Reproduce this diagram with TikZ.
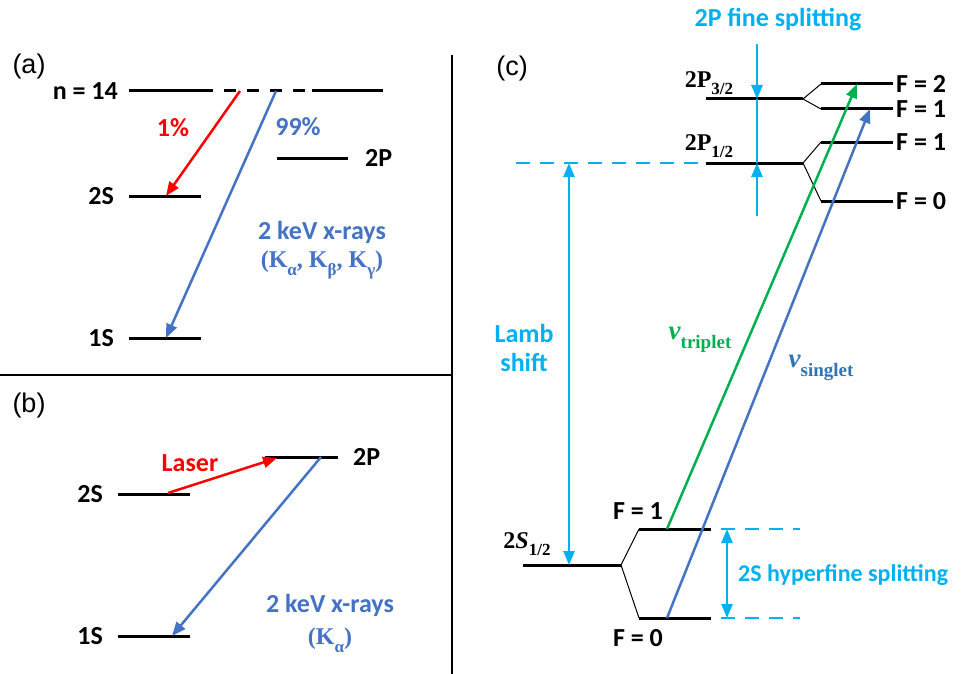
\documentclass[tikz,border=0pt]{standalone}
\usepackage{fontspec}
\setmainfont{Carlito}
\newfontfamily\arialfont{Liberation Sans}
\newfontfamily\mathser{Liberation Serif}
\usetikzlibrary{arrows.meta}
\definecolor{lblue}{RGB}{0,176,240}
\definecolor{mblue}{RGB}{68,114,196}
\definecolor{sblue}{RGB}{46,117,182}
\definecolor{grn}{RGB}{0,176,80}
\definecolor{rd}{RGB}{255,0,0}
\newcommand{\msub}[1]{\raisebox{-0.32em}{\fontsize{17}{19}\selectfont #1}}
\newcommand{\nusub}[1]{\raisebox{-0.32em}{\fontsize{19}{21}\selectfont #1}}
\tikzset{
  lvl/.style={line width=3pt},
  splitline/.style={line width=1pt},
  lab/.style={font=\bfseries\fontsize{26}{30}\selectfont, inner sep=0pt},
  mlab/.style={font=\mathser\bfseries\fontsize{24}{28}\selectfont, inner sep=0pt},
  nulab/.style={font=\mathser\bfseries\fontsize{27}{30}\selectfont, inner sep=0pt},
  panellab/.style={font=\arialfont\fontsize{27}{30}\selectfont, inner sep=0pt},
  arr/.style={line width=2.5pt, -{Triangle[length=14pt,width=11pt]}},
  larr/.style={line width=2.5pt, lblue, -{Triangle[length=14pt,width=11pt]}},
  dblarr/.style={line width=2.5pt, lblue, {Triangle[length=14pt,width=11pt]}-{Triangle[length=14pt,width=11pt]}},
  ldash/.style={line width=2.5pt, lblue, dash pattern=on 14pt off 10pt},
}
\begin{document}
\begin{tikzpicture}[x=1pt,y=-1pt]
\path[use as bounding box] (0,0) rectangle (963,674);
% dividers
\coordinate (vtop) at (452,55); \coordinate (vbot) at (452,674);
\coordinate (hl) at (0,375); \coordinate (hr) at (452,375);
\draw[line width=2pt] (vtop) -- (vbot);
\draw[line width=2pt] (hl) -- (hr);

% ---------- panel (a)
\node[panellab] (pa) at (29,67) {(a)};
\coordinate (a14L) at (129,91); \coordinate (a14A) at (213,91);
\coordinate (a14B) at (312,91); \coordinate (a14R) at (383,91);
\draw[lvl] (a14L) -- (a14A);
\draw[lvl, dash pattern=on 12pt off 11pt, dash phase=12pt] (a14A) -- (a14B);
\draw[lvl] (a14B) -- (a14R);
\node[lab, anchor=east] (n14) at (118,91) {n = 14};
\coordinate (a2SL) at (129,196); \coordinate (a2SR) at (201,196);
\draw[lvl] (a2SL) -- (a2SR);
\node[lab, anchor=east] (a2S) at (114,196) {2S};
\coordinate (a1SL) at (129,338); \coordinate (a1SR) at (201,338);
\draw[lvl] (a1SL) -- (a1SR);
\node[lab, anchor=east] (a1S) at (114,338) {1S};
\coordinate (a2PL) at (277,158); \coordinate (a2PR) at (348,158);
\draw[lvl] (a2PL) -- (a2PR);
\node[lab, anchor=west] (a2P) at (365,158) {2P};
\coordinate (ar1) at (240,91); \coordinate (ar2) at (166,196);
\draw[arr, rd] (ar1) -- (ar2);
\coordinate (ab1) at (276,91); \coordinate (ab2) at (166,338);
\draw[arr, mblue] (ab1) -- (ab2);
\node[lab, rd] (p1) at (173,128) {1\%};
\node[lab, mblue] (p99) at (298,127) {99\%};
\node[lab, mblue] (xa) at (322,232) {2 keV x-rays};
\node[mlab, mblue] (ka) at (322,265) {(K\msub{α}, K\msub{β}, K\msub{γ})};

% ---------- panel (b)
\node[panellab] (pb) at (29,406) {(b)};
\coordinate (b2SL) at (118,494); \coordinate (b2SR) at (190,494);
\draw[lvl] (b2SL) -- (b2SR);
\node[lab, anchor=east] (b2S) at (103,494) {2S};
\coordinate (b2PL) at (265,457); \coordinate (b2PR) at (338,457);
\draw[lvl] (b2PL) -- (b2PR);
\node[lab, anchor=west] (b2P) at (353,457) {2P};
\coordinate (b1SL) at (118,636); \coordinate (b1SR) at (190,636);
\draw[lvl] (b1SL) -- (b1SR);
\node[lab, anchor=east] (b1S) at (103,636) {1S};
\coordinate (br1) at (168,493); \coordinate (br2) at (277,458);
\draw[arr, rd] (br1) -- (br2);
\node[lab, rd] (laser) at (190,463) {Laser};
\coordinate (bb1) at (321,457); \coordinate (bb2) at (172,636);
\draw[arr, mblue] (bb1) -- (bb2);
\node[lab, mblue] (xb) at (330,605) {2 keV x-rays};
\node[mlab, mblue] (kb) at (330,640) {(K\msub{α})};

% ---------- panel (c)
\node[panellab] (pc) at (512,69) {(c)};
\node[lab, lblue] (fine) at (778,20) {2P fine splitting};
% 2P3/2
\coordinate (p32L) at (706,99); \coordinate (p32R) at (803,99);
\draw[lvl] (p32L) -- (p32R);
\coordinate (f2L) at (821,84); \coordinate (f2R) at (893,84);
\coordinate (f1aL) at (821,109); \coordinate (f1aR) at (893,109);
\draw[lvl] (f2L) -- (f2R);
\draw[lvl] (f1aL) -- (f1aR);
\draw[splitline] (p32R) -- (f2L);
\draw[splitline] (p32R) -- (f1aL);
\node[mlab] (p32lab) at (709,83) {2P\msub{3/2}};
% 2P1/2
\coordinate (p12D) at (516,163);
\coordinate (p12L) at (706,163); \coordinate (p12R) at (803,163);
\draw[ldash] (p12D) -- (p12L);
\draw[lvl] (p12L) -- (p12R);
\coordinate (f1bL) at (821,142); \coordinate (f1bR) at (893,142);
\coordinate (f0aL) at (821,201); \coordinate (f0aR) at (893,201);
\draw[lvl] (f1bL) -- (f1bR);
\draw[lvl] (f0aL) -- (f0aR);
\draw[splitline] (p12R) -- (f1bL);
\draw[splitline] (p12R) -- (f0aL);
\node[mlab] (p12lab) at (709,146) {2P\msub{1/2}};
\node[lab, anchor=west] (lf2) at (896,84) {F = 2};
\node[lab, anchor=west] (lf1a) at (896,109) {F = 1};
\node[lab, anchor=west] (lf1b) at (896,142) {F = 1};
\node[lab, anchor=west] (lf0a) at (896,201) {F = 0};
% fine splitting arrows
\coordinate (fsT) at (757,44); \coordinate (fsA) at (757,99);
\coordinate (fsB) at (757,163); \coordinate (fsE) at (757,216);
\draw[larr] (fsT) -- (fsA);
\draw[line width=2.5pt, lblue] (fsA) -- (fsB);
\draw[larr] (fsE) -- (fsB);
% 2S1/2
\coordinate (s12L) at (523,565); \coordinate (s12R) at (621,565);
\draw[lvl] (s12L) -- (s12R);
\coordinate (sf1L) at (639,529); \coordinate (sf1R) at (711,529);
\coordinate (sf0L) at (639,618); \coordinate (sf0R) at (711,618);
\draw[lvl] (sf1L) -- (sf1R);
\draw[lvl] (sf0L) -- (sf0R);
\draw[splitline] (s12R) -- (sf1L);
\draw[splitline] (s12R) -- (sf0L);
\node[mlab] (s12lab) at (527,544) {2\textit{S}\msub{1/2}};
\node[lab] (lsf1) at (638,511) {F = 1};
\node[lab] (lsf0) at (638,638) {F = 0};
\coordinate (hd1) at (800,529); \coordinate (hd0) at (800,618);
\draw[ldash, dash phase=-10pt] (sf1R) -- (hd1);
\draw[ldash, dash phase=-10pt] (sf0R) -- (hd0);
% Lamb shift
\coordinate (lsT) at (569,163); \coordinate (lsB) at (569,565);
\draw[dblarr] (lsT) -- (lsB);
\node[lab, lblue] (lamb1) at (524,333) {Lamb};
\node[lab, lblue] (lamb2) at (524,362) {shift};
% hyperfine
\coordinate (hfT) at (727,529); \coordinate (hfB) at (727,618);
\draw[dblarr] (hfT) -- (hfB);
\node[lab, lblue, anchor=west, font=\bfseries\fontsize{24}{28}\selectfont] (hfs) at (738,575) {2S hyperfine splitting};
% transitions
\coordinate (gt1) at (667,529); \coordinate (gt2) at (857,84);
\draw[arr, grn] (gt1) -- (gt2);
\coordinate (bt1) at (667,618); \coordinate (bt2) at (870,109);
\draw[arr, mblue] (bt1) -- (bt2);
\node[nulab, grn] (nut) at (700,340) {{\itshape ν}\nusub{triplet}};
\node[nulab, sblue] (nus) at (821,368) {{\itshape ν}\nusub{singlet}};
\end{tikzpicture}
\end{document}
